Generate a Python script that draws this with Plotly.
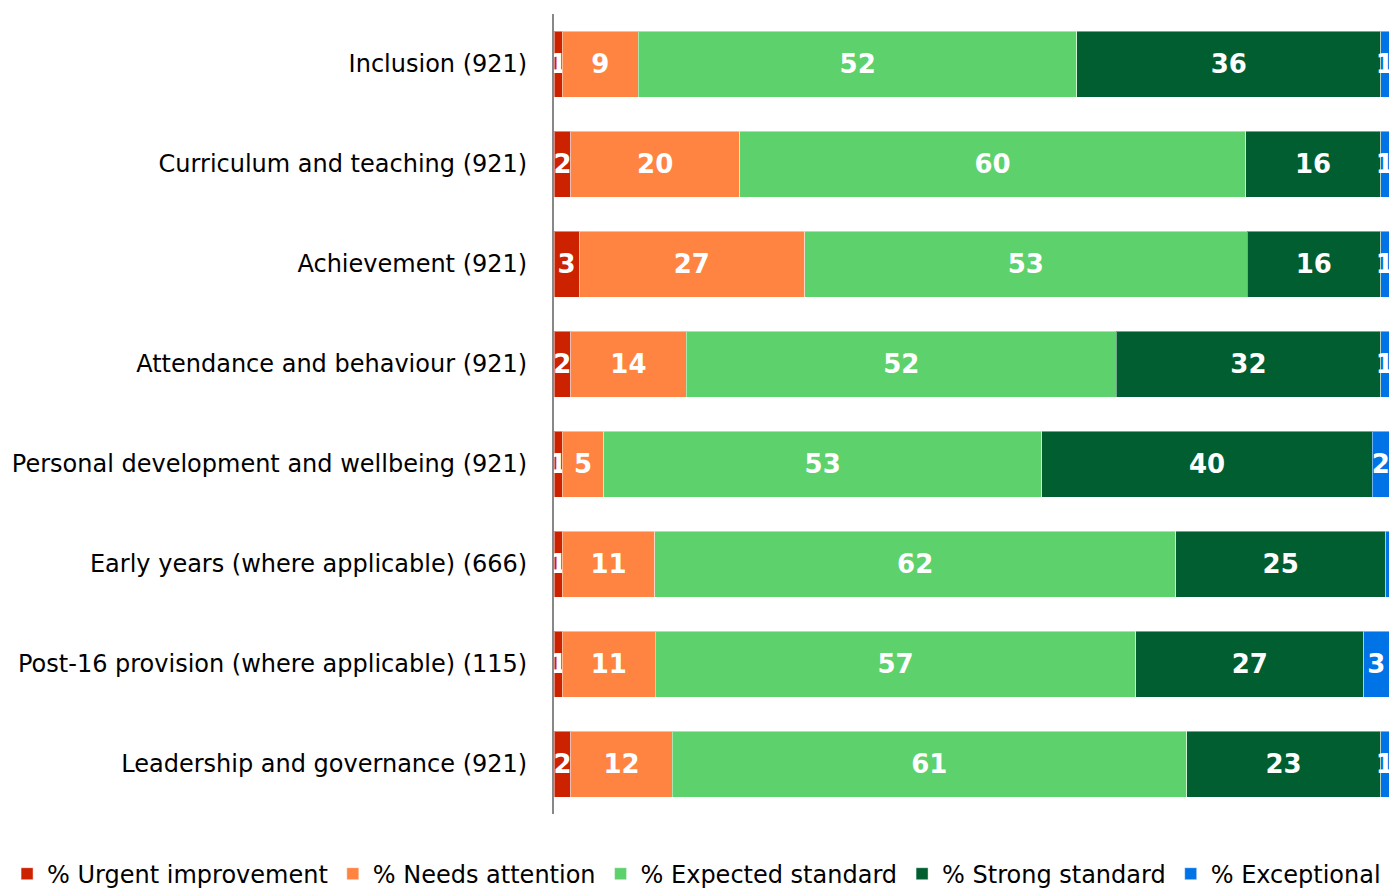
import plotly.graph_objects as go

categories = [
    "Inclusion (921)",
    "Curriculum and teaching (921)",
    "Achievement (921)",
    "Attendance and behaviour (921)",
    "Personal development and wellbeing (921)",
    "Early years (where applicable) (666)",
    "Post-16 provision (where applicable) (115)",
    "Leadership and governance (921)",
]

urgent = [1, 2, 3, 2, 1, 1, 1, 2]
needs_attention = [9, 20, 27, 14, 5, 11, 11, 12]
expected = [52, 60, 53, 52, 53, 62, 57, 61]
strong = [36, 16, 16, 32, 40, 25, 27, 23]
exceptional = [1, 1, 1, 1, 2, 0.4, 3, 1]

series_names = [
    "% Urgent improvement",
    "% Needs attention",
    "% Expected standard",
    "% Strong standard",
    "% Exceptional",
]
series_values = [urgent, needs_attention, expected, strong, exceptional]
series_colors = ["#CC2200", "#FF8442", "#5DD16B", "#005E30", "#0073E6"]

FONT = "DejaVu Sans"

fig = go.Figure()
for name, vals, color in zip(series_names, series_values, series_colors):
    labels = [f"{round(v)}" if v >= 0.5 else "" for v in vals]
    fig.add_trace(go.Bar(
        name=name,
        y=categories,
        x=vals,
        orientation="h",
        marker=dict(color=color, line=dict(color="rgba(255,255,255,0.45)", width=1)),
        text=labels,
        textposition="inside",
        insidetextanchor="middle",
        constraintext="none",
        textangle=0,
        textfont=dict(family=FONT, size=26, color="white", weight="bold"),
        cliponaxis=False,
        hoverinfo="skip",
    ))

fig.update_layout(
    width=1398,
    height=894,
    barmode="stack",
    barnorm="percent",
    bargap=0.34,
    plot_bgcolor="white",
    paper_bgcolor="white",
    margin=dict(l=554, r=9, t=14, b=80, autoexpand=False),
    font=dict(family=FONT, color="black"),
    xaxis=dict(
        range=[0, 100],
        showgrid=False,
        zeroline=False,
        showline=False,
        showticklabels=False,
        ticks="",
    ),
    yaxis=dict(
        autorange="reversed",
        showgrid=False,
        zeroline=False,
        showline=True,
        linecolor="#888888",
        linewidth=2,
        ticks="",
        ticklabelstandoff=20,
        tickfont=dict(family=FONT, size=24, color="black"),
    ),
    legend=dict(
        orientation="h",
        x=-0.655,
        xanchor="left",
        y=-0.047,
        yanchor="top",
        font=dict(family=FONT, size=24, color="black"),
        traceorder="normal",
        itemwidth=30,
    ),
    showlegend=True,
)

fig.write_html("out.html")
